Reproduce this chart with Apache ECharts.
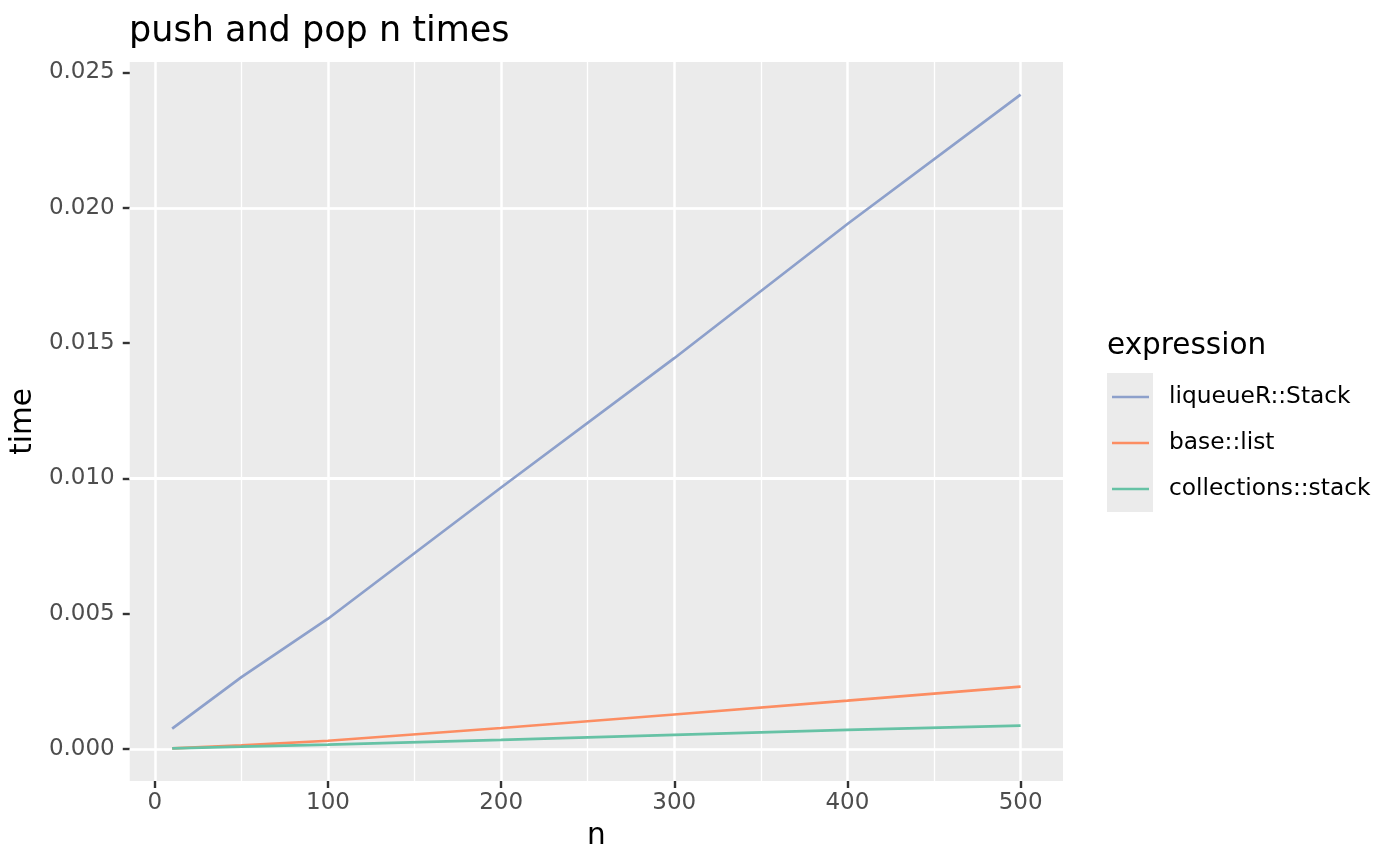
<!DOCTYPE html>
<html>
<head>
<meta charset="utf-8">
<script src="https://cdn.jsdelivr.net/npm/echarts@6/dist/echarts.min.js"></script>
<style>
html,body{margin:0;padding:0;background:#fff;}
#chart{width:1400px;height:865px;}
</style>
</head>
<body>
<div id="chart"></div>
<script>
// ---- data ----
const nValues = [10, 50, 100, 200, 300, 400, 500];
const liqueueRStack = [0.00075, 0.00265, 0.00481, 0.00966, 0.01444, 0.0194, 0.02418];
const baseList = [0.00002, 0.00013, 0.00030, 0.00077, 0.00127, 0.00178, 0.00230];
const collectionsStack = [0.00002, 0.00008, 0.00016, 0.00033, 0.00052, 0.00070, 0.00086];
const seriesNames = ['liqueueR::Stack', 'base::list', 'collections::stack'];
const seriesColors = ['#8DA0CB', '#FC8D62', '#66C2A5'];

// ---- ticks ----
const xMajor = [0, 100, 200, 300, 400, 500];
const xMinor = [50, 150, 250, 350, 450];
const yMajor = [0, 0.005, 0.010, 0.015, 0.020, 0.025];
const yMinor = [0.0025, 0.0075, 0.0125, 0.0175, 0.0225];

// ggplot-style 5% expansion
function expand(vals) {
  const lo = Math.min(...vals), hi = Math.max(...vals);
  const r = hi - lo;
  return [lo - 0.05 * r, hi + 0.05 * r];
}
const xr = expand(nValues);
const yr = expand(liqueueRStack.concat(baseList, collectionsStack));

const FONT = 'DejaVu Sans';
const allSeriesData = [liqueueRStack, baseList, collectionsStack];

const lineSeries = allSeriesData.map((arr, i) => ({
  name: seriesNames[i],
  type: 'line',
  data: nValues.map((n, j) => [n, arr[j]]),
  symbol: 'none',
  showSymbol: false,
  color: seriesColors[i],
  lineStyle: { color: seriesColors[i], width: 2.7 },
  z: 3,
  silent: true
}));

const MINOR_W = 1.3, MAJOR_W = 2.5;
const gridSeries = {
  name: '__grid',
  type: 'line',
  data: [],
  silent: true,
  z: 1,
  markLine: {
    silent: true,
    z: 1,
    symbol: ['none', 'none'],
    label: { show: false },
    emphasis: { disabled: true },
    animation: false,
    data: []
      .concat(xMinor.map(v => ({ xAxis: v, lineStyle: { color: '#ffffff', width: MINOR_W, type: 'solid', opacity: 1 } })))
      .concat(yMinor.map(v => ({ yAxis: v, lineStyle: { color: '#ffffff', width: MINOR_W, type: 'solid', opacity: 1 } })))
      .concat(xMajor.map(v => ({ xAxis: v, lineStyle: { color: '#ffffff', width: MAJOR_W, type: 'solid', opacity: 1 } })))
      .concat(yMajor.map(v => ({ yAxis: v, lineStyle: { color: '#ffffff', width: MAJOR_W, type: 'solid', opacity: 1 } })))
  }
};

const option = {
  animation: false,
  backgroundColor: '#ffffff',
  textStyle: { fontFamily: FONT },
  title: [
    {
      text: 'push and pop n times',
      left: 129, top: 14, padding: 0,
      textStyle: { fontFamily: FONT, fontSize: 35, fontWeight: 'normal', color: '#000000' }
    },
    {
      text: 'expression',
      left: 1107, top: 331, padding: 0,
      textStyle: { fontFamily: FONT, fontSize: 29.5, fontWeight: 'normal', color: '#000000' }
    }
  ],
  graphic: [
    { type: 'rect', left: 1107, top: 373, z: 0, shape: { width: 46, height: 139 }, style: { fill: '#EBEBEB' }, silent: true }
  ],
  legend: {
    data: seriesNames,
    orient: 'vertical',
    left: 1112, top: 385,
    padding: 0,
    icon: 'rect',
    itemWidth: 37, itemHeight: 2.7,
    itemGap: 22,
    selectedMode: false,
    textStyle: { fontFamily: FONT, fontSize: 23.3, lineHeight: 24, color: '#000000', padding: [0, 0, 0, 15] }
  },
  grid: {
    left: 129, right: 337, top: 62, bottom: 84,
    show: true, backgroundColor: '#EBEBEB', borderWidth: 0,
    containLabel: false
  },
  xAxis: {
    type: 'value',
    min: xr[0], max: xr[1],
    name: 'n',
    nameLocation: 'middle',
    nameGap: 40,
    nameTextStyle: { fontFamily: FONT, fontSize: 29.5, color: '#000000' },
    axisLine: { show: false, onZero: false },
    axisTick: { show: true, length: 7, customValues: xMajor, lineStyle: { color: '#333333', width: 2.4 } },
    axisLabel: { customValues: xMajor, margin: 11, fontFamily: FONT, fontSize: 23, color: '#4D4D4D' },
    splitLine: { show: false },
    minorSplitLine: { show: false }
  },
  yAxis: {
    type: 'value',
    min: yr[0], max: yr[1],
    name: 'time',
    nameLocation: 'middle',
    nameRotate: 90,
    nameGap: 89,
    nameTextStyle: { fontFamily: FONT, fontSize: 29.5, color: '#000000' },
    axisLine: { show: false, onZero: false },
    axisTick: { show: true, length: 7, customValues: yMajor, lineStyle: { color: '#333333', width: 2.4 } },
    axisLabel: { customValues: yMajor, margin: 15, fontFamily: FONT, fontSize: 23, color: '#4D4D4D',
      formatter: v => v.toFixed(3) },
    splitLine: { show: false }
  },
  series: [gridSeries].concat(lineSeries)
};

const chart = echarts.init(document.getElementById('chart'), null, { renderer: 'canvas' });
chart.setOption(option);
</script>
</body>
</html>
